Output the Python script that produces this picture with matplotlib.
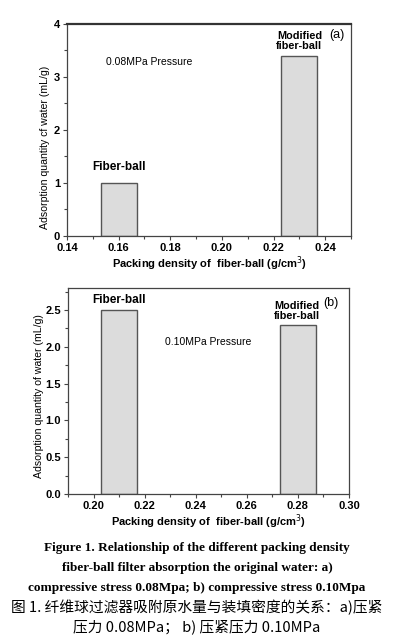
import matplotlib.pyplot as plt
from matplotlib.ticker import MultipleLocator

plt.rcParams['font.family'] = ['Liberation Sans', 'DejaVu Sans']

# panel (a): 0.08MPa
dens_a = [0.16, 0.23]
water_a = [1.0, 3.4]
names_a = ['Fiber-ball', 'Modified\nfiber-ball']

# panel (b): 0.10MPa
dens_b = [0.21, 0.28]
water_b = [2.5, 2.3]
names_b = ['Fiber-ball', 'Modified\nfiber-ball']

caption = [
    'Figure 1. Relationship of the different packing density',
    'fiber-ball filter absorption the original water: a)',
    'compressive stress 0.08Mpa; b) compressive stress 0.10Mpa',
]
caption_cn = [
    '图 1. 纤维球过滤器吸附原水量与装填密度的关系：a)压紧',
    '压力 0.08MPa； b) 压紧压力 0.10MPa',
]

fig = plt.figure(figsize=(3.94, 6.37), dpi=100)
ax1 = fig.add_axes([0.170, 0.6295, 0.721, 0.333])
ax2 = fig.add_axes([0.1726, 0.2245, 0.713, 0.3234])

xlab = 'Packing density of  fiber-ball (g/cm$^3$)'


def style(ax):
    for s in ax.spines.values():
        s.set_color('#444444')
        s.set_linewidth(0.9)
    ax.tick_params(which='both', direction='out', color='#444444', width=0.8)
    ax.tick_params(which='major', length=3, labelsize=8, pad=2)
    ax.tick_params(which='minor', length=2)
    for lab in ax.get_xticklabels() + ax.get_yticklabels():
        lab.set_fontweight('bold')


ax1.bar(dens_a, water_a, width=0.014, color='#dcdcdc', edgecolor='#555555', linewidth=1)
ax1.set_xlim(0.14, 0.25)
ax1.set_ylim(0, 4)
ax1.set_xticks([0.14, 0.16, 0.18, 0.20, 0.22, 0.24])
ax1.set_xticklabels(['%.2f' % v for v in [0.14, 0.16, 0.18, 0.20, 0.22, 0.24]])
ax1.set_yticks([0, 1, 2, 3, 4])
ax1.xaxis.set_minor_locator(MultipleLocator(0.01))
ax1.yaxis.set_minor_locator(MultipleLocator(0.5))
style(ax1)
ax1.spines['top'].set_linewidth(1.6)
ax1.spines['top'].set_color('#333333')
ax1.set_xlabel(xlab, fontsize=8, fontweight='bold', labelpad=1)
ax1.set_ylabel('Adsorption quantity cf water (mL/g)', fontsize=7.6)
ax1.yaxis.set_label_coords(-0.06, 0.42)
ax1.text(dens_a[0], 1.30, names_a[0], ha='center', va='center', fontsize=8.5, fontweight='bold')
ax1.text(dens_a[1], 3.68, names_a[1], ha='center', va='center', fontsize=7.8,
         fontweight='bold', linespacing=1.05)
ax1.text(0.2444, 3.79, '(a)', ha='center', va='center', fontsize=9)
ax1.text(0.155, 3.28, '0.08MPa Pressure', ha='left', va='center', fontsize=7.5)

ax2.bar(dens_b, water_b, width=0.014, color='#dcdcdc', edgecolor='#555555', linewidth=1)
ax2.set_xlim(0.19, 0.30)
ax2.set_ylim(0, 2.8)
ax2.set_xticks([0.20, 0.22, 0.24, 0.26, 0.28, 0.30])
ax2.set_xticklabels(['%.2f' % v for v in [0.20, 0.22, 0.24, 0.26, 0.28, 0.30]])
ax2.set_yticks([0, 0.5, 1.0, 1.5, 2.0, 2.5])
ax2.set_yticklabels(['%.1f' % v for v in [0, 0.5, 1.0, 1.5, 2.0, 2.5]])
ax2.xaxis.set_minor_locator(MultipleLocator(0.01))
ax2.yaxis.set_minor_locator(MultipleLocator(0.25))
style(ax2)
ax2.set_xlabel(xlab, fontsize=8, fontweight='bold', labelpad=1)
ax2.set_ylabel('Adsorption quantity of water (mL/g)', fontsize=7.6)
ax2.yaxis.set_label_coords(-0.084, 0.475)
ax2.text(dens_b[0], 2.63, names_b[0], ha='center', va='center', fontsize=8.5, fontweight='bold')
ax2.text(dens_b[1] - 0.0005, 2.49, names_b[1], ha='center', va='center', fontsize=7.8,
         fontweight='bold', linespacing=1.05)
ax2.text(0.293, 2.59, '(b)', ha='center', va='center', fontsize=9)
ax2.text(0.245, 2.07, '0.10MPa Pressure', ha='center', va='center', fontsize=7.5)

ys = [548, 568, 588]
for y, line in zip(ys, caption):
    fig.text(0.5, 1 - y / 637, line, ha='center', va='center', fontsize=9.5,
             fontweight='bold', family=['Liberation Serif', 'DejaVu Serif'])
for y, line in zip([607, 627], caption_cn):
    fig.text(0.5, 1 - y / 637, line, ha='center', va='center', fontsize=10.6,
             family=['Noto Sans CJK SC', 'DejaVu Sans'])

fig.savefig('out.png', dpi=100, facecolor='white')
